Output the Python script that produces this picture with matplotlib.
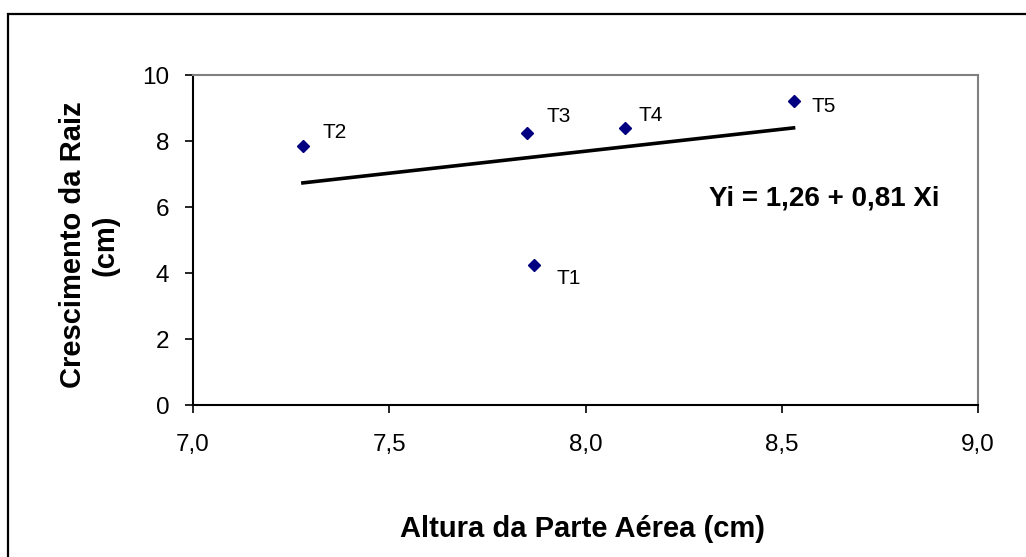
import numpy as np
import matplotlib
matplotlib.use("Agg")
import matplotlib.pyplot as plt
from matplotlib.patches import Rectangle

plt.rcParams["font.family"] = ["Liberation Sans", "DejaVu Sans"]

# data
treatments = ["T1", "T2", "T3", "T4", "T5"]
altura = [7.87, 7.28, 7.85, 8.10, 8.53]      # Altura da Parte Aerea (cm)
raiz = [4.24, 7.85, 8.25, 8.40, 9.22]        # Crescimento da Raiz (cm)
equation = "Yi = 1,26 + 0,81 Xi"
xticks = [7.0, 7.5, 8.0, 8.5, 9.0]
yticks = [0, 2, 4, 6, 8, 10]

# label offsets in pixels (placement only)
label_offsets = [(22, -13), (20, 13), (20, 16), (14, 12), (18, -6)]

W, H = 1026, 557
fig = plt.figure(figsize=(W / 100, H / 100), dpi=100)
ax = fig.add_axes([193 / W, 1 - 405 / H, (978 - 193) / W, (405 - 75) / H])

ax.plot(altura, raiz, linestyle="none", marker="D", markersize=6,
        color="#000080", zorder=3)
for name, xv, yv, off in zip(treatments, altura, raiz, label_offsets):
    ax.annotate(name, (xv, yv), xytext=off, textcoords="offset pixels",
                ha="left", va="center", fontsize=15)

# linear trend over the data range
slope, intercept = np.polyfit(altura, raiz, 1)
xs = np.array([min(altura), max(altura)])
ax.plot(xs, intercept + slope * xs, color="black", lw=2.6, zorder=2)

fig.text(824 / W, 1 - 198 / H, equation, ha="center", va="center",
         fontsize=20, fontweight="bold",
         bbox=dict(boxstyle="square,pad=1.2", fc="white", ec="none"))

ax.set_xlim(7.0, 9.0)
ax.set_ylim(0, 10)
ax.set_xticks(xticks)
ax.set_xticklabels([f"{t:.1f}".replace(".", ",") for t in xticks])
ax.set_yticks(yticks)
ax.tick_params(axis="both", direction="out", length=6, width=1.2,
               labelsize=17.5, color="black")
ax.tick_params(axis="x", pad=15)
ax.tick_params(axis="y", pad=11)
for side in ("left", "bottom"):
    ax.spines[side].set_color("black")
    ax.spines[side].set_linewidth(1.5)
for side in ("top", "right"):
    ax.spines[side].set_color("#808080")
    ax.spines[side].set_linewidth(1.5)

fig.text(583 / W, 1 - 529 / H, "Altura da Parte Aérea (cm)", ha="center",
         va="center", fontsize=21, fontweight="bold")
fig.text(89 / W, 1 - 245 / H, "Crescimento da Raiz\n(cm)", ha="center",
         va="center", rotation=90, fontsize=21, fontweight="bold",
         multialignment="center", linespacing=1.2)

# outer chart border (only left/top edges fall inside the crop)
fig.patches.append(Rectangle((8 / W, -0.1), 1.2, 1 - 14 / H + 0.1,
                             transform=fig.transFigure, fill=False,
                             ec="black", lw=1.6))

fig.savefig("out.png", dpi=100)
